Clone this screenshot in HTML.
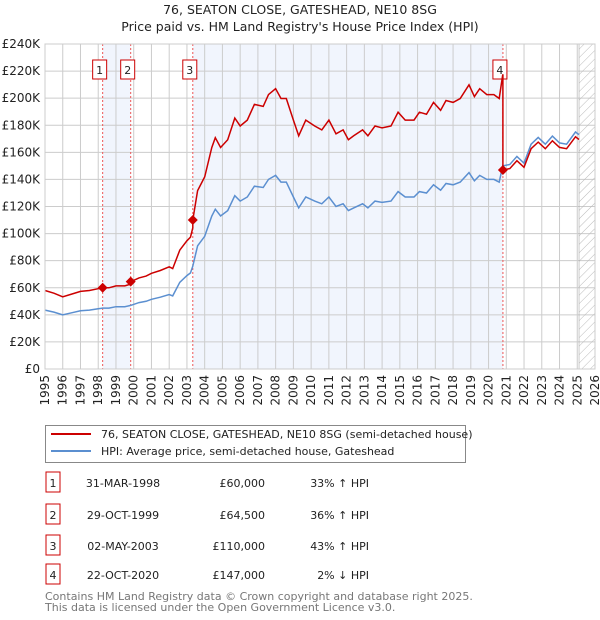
<!DOCTYPE html>
<html><head><meta charset="utf-8">
<style>
body{margin:0;background:#fff;font-family:"Liberation Sans","DejaVu Sans",sans-serif;}
#wrap{position:relative;width:600px;height:620px;overflow:hidden}
svg text{font-family:"DejaVu Sans","Liberation Sans",sans-serif}
</style></head>
<body><div id="wrap">
<svg id="chart" width="600" height="620" xmlns="http://www.w3.org/2000/svg">
<text x="300" y="14" text-anchor="middle" font-size="12.5" fill="#222">76, SEATON CLOSE, GATESHEAD, NE10 8SG</text>
<text x="300" y="31" text-anchor="middle" font-size="12.5" fill="#222">Price paid vs. HM Land Registry's House Price Index (HPI)</text>
<g id="plot"></g>
<g>
<rect x="45.5" y="425.5" width="420" height="37" fill="#fff" stroke="#888"/>
<line x1="51" y1="434" x2="91" y2="434" stroke="#cc0000" stroke-width="2"/>
<text x="101" y="438" font-size="11" fill="#222">76, SEATON CLOSE, GATESHEAD, NE10 8SG (semi-detached house)</text>
<line x1="51" y1="451" x2="91" y2="451" stroke="#5b8fd0" stroke-width="2"/>
<text x="101" y="455" font-size="11" fill="#222">HPI: Average price, semi-detached house, Gateshead</text>
</g>
<g id="table"></g>
<text x="45" y="600" font-size="11" fill="#777">Contains HM Land Registry data © Crown copyright and database right 2025.</text>
<text x="45" y="611" font-size="11" fill="#777">This data is licensed under the Open Government Licence v3.0.</text>
</svg>
</div>
<script>
const hpiYears=[1995,1995.5,1996,1996.5,1997,1997.5,1998,1998.25,1998.6,1999,1999.5,1999.83,2000.3,2000.7,2001,2001.5,2002,2002.2,2002.6,2003,2003.2,2003.33,2003.6,2004,2004.4,2004.6,2004.9,2005.3,2005.7,2006,2006.4,2006.8,2007.3,2007.6,2008,2008.3,2008.6,2009,2009.3,2009.7,2010.2,2010.6,2011,2011.4,2011.8,2012.1,2012.4,2012.9,2013.2,2013.6,2014,2014.5,2014.9,2015.3,2015.8,2016.1,2016.5,2016.9,2017.3,2017.6,2018,2018.4,2018.9,2019.2,2019.5,2019.9,2020.3,2020.6,2020.8,2021.2,2021.6,2022,2022.4,2022.8,2023.2,2023.6,2024,2024.4,2024.9,2025.1];
const hpiValues=[43.5,42,40,41.5,43,43.5,44.5,45,45,46,46,47,49,50,51.5,53,55,54,64,69,71,76,91,98,113,118,113,117,128,124,127,135,134,140,143,138,138,127,119,127,124,122,127,120,122,117,119,122,119,124,123,124,131,127,127,131,130,136,132,137,136,138,145,139,143,140,140,138,150,151,157,152,166,171,166,172,167,166,175,173];
const saleLabels=["1","2","3","4"];
const saleYears=[1998.25,1999.83,2003.33,2020.81];
const salePrices=[60,64.5,110,147];
const saleDates=["31-MAR-1998","29-OCT-1999","02-MAY-2003","22-OCT-2020"];
const salePriceText=["£60,000","£64,500","£110,000","£147,000"];
const saleHpiText=["33% ↑ HPI","36% ↑ HPI","43% ↑ HPI","2% ↓ HPI"];
const yTicks=[0,20,40,60,80,100,120,140,160,180,200,220,240];
const xTicks=[];for(let y=1995;y<=2026;y++)xTicks.push(y);

const NS="http://www.w3.org/2000/svg";
const X0=45,X1=595,Y0=369,Y1=44,YMIN=1995,YMAX=2026,VMAX=240;
const sx=y=>X0+(y-YMIN)/(YMAX-YMIN)*(X1-X0);
const sy=v=>Y0-v/VMAX*(Y0-Y1);
const plot=document.getElementById('plot');
function mk(tag,attrs,parent){const e=document.createElementNS(NS,tag);for(const k in attrs)e.setAttribute(k,attrs[k]);(parent||plot).appendChild(e);return e;}
function hpiAt(t){for(let i=0;i<hpiYears.length-1;i++){if(t<=hpiYears[i+1]){const f=(t-hpiYears[i])/(hpiYears[i+1]-hpiYears[i]);return hpiValues[i]+f*(hpiValues[i+1]-hpiValues[i]);}}return hpiValues[hpiValues.length-1];}

let bg=mk('rect',{x:X0,y:Y1,width:X1-X0,height:Y0-Y1,fill:'#fff'});


[[0,1],[2,3]].forEach(p=>{const r=mk('rect',{x:sx(saleYears[p[0]]),y:Y1,width:sx(saleYears[p[1]])-sx(saleYears[p[0]]),height:Y0-Y1,fill:'#eef3fc',opacity:0.8});

});
xTicks.forEach(y=>{const l=mk('line',{x1:sx(y),x2:sx(y),y1:Y1,y2:Y0,stroke:'#ccc','stroke-width':1});


const t=mk('text',{x:0,y:0,'font-size':12,fill:'#222','text-anchor':'end',transform:`translate(${sx(y)+4},${Y0+6}) rotate(-90)`});t.textContent=y;

});
yTicks.forEach(v=>{const l=mk('line',{x1:X0,x2:X1,y1:sy(v),y2:sy(v),stroke:'#ccc','stroke-width':1});


const t=mk('text',{x:40,y:sy(v)+4,'font-size':12,fill:'#222','text-anchor':'end'});t.textContent=v===0?'£0':'£'+v+'K';

});
// hatch future
const defs=mk('defs',{});
const pat=mk('pattern',{id:'hatch',width:6,height:6,patternUnits:'userSpaceOnUse',patternTransform:'rotate(45)'},defs);
mk('line',{x1:0,y1:0,x2:0,y2:6,stroke:'#bbb','stroke-width':1},pat);
const hx=sx(2025.1);
const h=mk('rect',{x:hx,y:Y1,width:X1-hx,height:Y0-Y1,fill:'url(#hatch)',stroke:'#999','stroke-width':0.5});


// sale lines
saleYears.forEach((s,i)=>{const l=mk('line',{x1:sx(s),x2:sx(s),y1:Y1,y2:Y0,stroke:'#e55','stroke-width':1,'stroke-dasharray':'2,2'});


const bx=sx(s)-3;
const r=mk('rect',{x:bx-7,y:60,width:14,height:19,fill:'#fff',stroke:'#cc0000','stroke-width':1});


const t=mk('text',{x:bx,y:74,'font-size':11,'text-anchor':'middle',fill:'#222'});t.textContent=saleLabels[i];

});
// HPI line
let d='';hpiYears.forEach((y,i)=>{d+=(i?'L':'M')+sx(y).toFixed(1)+','+sy(hpiValues[i]).toFixed(1);});
const hl=mk('path',{d:d,fill:'none',stroke:'#5b8fd0','stroke-width':1.5});


// property line
const pts=[];
function seg(k){return k;}
const allT=hpiYears.filter(t=>t<=2025.1);
let rd='';let first=true;
function redAt(t,k){return salePrices[k]*hpiAt(t)/hpiAt(saleYears[k]);}
const times=[...allT];saleYears.forEach(s=>{times.push(s-0.001);times.push(s);});times.sort((a,b)=>a-b);
times.forEach(t=>{let k=0;for(let i=0;i<saleYears.length;i++)if(t>=saleYears[i])k=i;const v=redAt(t,k);rd+=(first?'M':'L')+sx(t).toFixed(1)+','+sy(v).toFixed(1);first=false;});
const rl=mk('path',{d:rd,fill:'none',stroke:'#cc0000','stroke-width':1.5});


saleYears.forEach((s,i)=>{const c=mk('path',{d:`M${sx(s)},${sy(salePrices[i])-5}l5,5l-5,5l-5,-5z`,fill:'#cc0000'});

});
mk('rect',{x:X0,y:Y1,width:X1-X0,height:Y0-Y1,fill:'none',stroke:'#ccc'});
// table
const tb=document.getElementById('table');
const rowY=[483,515,546,575];
saleLabels.forEach((lab,i)=>{const y=rowY[i];
const b=mk('rect',{x:46,y:y-11,width:14,height:20,fill:'#fff',stroke:'#cc0000'},tb);


const cols=[[53,'middle',lab,'table-sale-number'],[123,'middle',saleDates[i],'table-sale-date'],[265,'end',salePriceText[i],'table-sale-price'],[369,'end',saleHpiText[i],'table-sale-hpi-diff']];
cols.forEach(c=>{const t=mk('text',{x:c[0],y:y+4,'font-size':11,fill:'#222','text-anchor':c[1]},tb);t.textContent=c[2];

});});
</script>
</body></html>
